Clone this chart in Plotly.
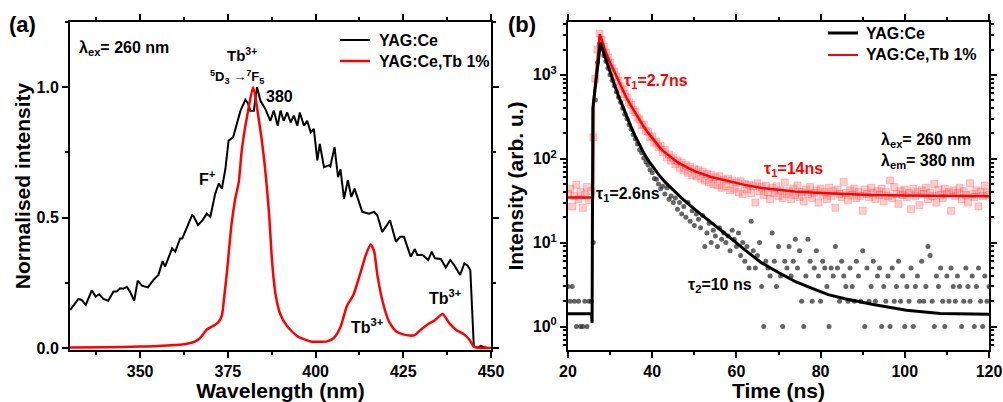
import plotly.graph_objects as go

# ---------------- Panel (a) data ----------------
black_wl = [330.0, 330.5, 332.4, 333.3, 334.5, 336.2, 337.3, 338.3, 339.5, 340.9, 342.4, 343.3, 344.3, 345.2,
            346.2, 347.1, 348.3, 349.3, 350.5, 352.2, 353.8, 355.2, 356.4, 357.1, 358.1, 359.1, 360.0, 361.4,
            362.0, 363.6, 364.8, 365.2, 366.5, 367.8, 369.0, 370.0, 371.4, 372.4, 373.3, 374.3, 375.2, 376.5,
            377.6, 378.6, 380.0, 380.7, 381.4, 382.4, 383.3, 384.3, 385.7, 387.1, 388.1, 389.2, 390.0, 390.9,
            391.9, 392.9, 393.8, 394.8, 395.5, 396.7, 397.6, 398.6, 399.5, 400.5, 401.2, 402.4, 403.8, 404.2,
            405.4, 406.4, 407.1, 408.1, 409.2, 410.2, 411.1, 412.4, 413.3, 415.2, 416.7, 417.6, 419.0, 420.0,
            421.2, 422.9, 424.1, 425.2, 427.1, 428.3, 429.0, 430.5, 432.1, 433.1, 434.0, 435.7, 437.1, 438.4,
            439.5, 441.2, 442.4, 443.3, 444.1, 445.1, 446.2, 447.1, 447.6, 449.0, 450.0]
black_int = [0.145, 0.153, 0.188, 0.184, 0.165, 0.221, 0.197, 0.206, 0.188, 0.181, 0.216, 0.216, 0.229, 0.227,
             0.234, 0.216, 0.181, 0.258, 0.239, 0.232, 0.261, 0.280, 0.333, 0.312, 0.350, 0.382, 0.369, 0.420,
             0.420, 0.471, 0.509, 0.506, 0.471, 0.490, 0.515, 0.503, 0.592, 0.630, 0.611, 0.687, 0.795, 0.808,
             0.865, 0.910, 0.952, 0.939, 0.910, 0.910, 1.000, 0.948, 0.916, 0.871, 0.910, 0.852, 0.910, 0.871,
             0.903, 0.865, 0.891, 0.852, 0.903, 0.852, 0.871, 0.827, 0.840, 0.719, 0.782, 0.693, 0.700, 0.696,
             0.770, 0.655, 0.685, 0.572, 0.643, 0.579, 0.611, 0.560, 0.522, 0.515, 0.522, 0.509, 0.445, 0.464,
             0.490, 0.407, 0.426, 0.426, 0.350, 0.379, 0.356, 0.356, 0.337, 0.369, 0.344, 0.341, 0.308, 0.337,
             0.318, 0.280, 0.324, 0.316, 0.299, 0.006, 0.000, 0.008, 0.005, 0.000, 0.000]

red_wl = [330, 340, 350, 355, 360, 363, 365.7, 367.1, 369.0, 371.4, 372.4, 373.3, 374.0, 374.8, 376.0, 377.1,
          378.1, 379.0, 380.5, 382.2, 383.8, 385.2, 386.7, 387.6, 388.6, 390.0, 391.9, 394.8, 398.6, 403.3,
          405.2, 407.1, 408.9, 410.8, 412.9, 414.3, 415.7, 416.7, 417.6, 419.0, 420.9, 422.9, 425.2, 428.1,
          430.0, 432.1, 433.8, 436.2, 438.1, 440.0, 442.4, 443.8, 445.1, 447.0, 450.0]
red_int = [0.002, 0.003, 0.005, 0.007, 0.011, 0.015, 0.025, 0.038, 0.070, 0.089, 0.100, 0.125, 0.200, 0.300,
           0.470, 0.572, 0.636, 0.763, 0.890, 1.000, 0.878, 0.738, 0.522, 0.331, 0.204, 0.127, 0.083, 0.045,
           0.025, 0.025, 0.038, 0.080, 0.160, 0.204, 0.293, 0.356, 0.397, 0.370, 0.280, 0.184, 0.102, 0.064,
           0.051, 0.048, 0.070, 0.092, 0.104, 0.130, 0.095, 0.070, 0.051, 0.032, 0.005, 0.000, 0.000]

# ---------------- Panel (b) data ----------------
time_ns = [20 + 0.5 * i for i in range(201)]
black_counts = [3, 2, 3, 2, 1, 2, 1, 1, 2, 1, 2, 2,
                10, 500, 1400, 2350, 2150, 1700, 1450, 1200, 1000, 860, 740, 630, 540, 470, 400, 340, 300, 255,
                225, 195, 172, 150, 128, 118, 102, 92, 84, 74, 68, 58, 57, 50, 44, 47, 38, 45, 33, 36,
                30, 34, 25, 30, 22, 27, 20, 30, 18, 24, 16, 22, 19, 15, 21, 9, 13, 17, 10, 14,
                12, 9, 15, 11, 13, 10, 12, 8, 14, 11, 9, 13, 7, 10, 6, 9, 5, 18, 8, 5,
                7, 10, 3, 1, 6, 5, 4, 13, 6, 3, 9, 4, 1, 6, 5, 9, 4, 6, 11, 5,
                8, 2, 1, 4, 11, 6, 2, 5, 8, 4, 2, 6, 5, 3, 1, 5, 4, 9, 5, 2,
                6, 4, 3, 2, 5, 3, 2, 6, 4, 2, 8, 1, 5, 2, 3, 6, 2, 4, 5, 1,
                3, 2, 4, 1, 5, 2, 3, 6, 2, 4, 1, 3, 2, 5, 1, 3, 4, 2, 6, 2,
                3, 9, 7, 2, 1, 4, 3, 5, 2, 1, 4, 2, 5, 3, 2, 4, 3, 1, 2, 5,
                3, 2, 4, 1, 3, 5, 2, 1, 4, 2, 3]
red_counts = [38, 44, 27, 36, 49, 33, 40, 26, 37, 46, 32, 41,
              180, 900, 2000, 3100, 2600, 2150, 1850, 1600, 1400, 1210, 1090, 940, 850, 730, 670, 590, 540, 470,
              440, 380, 360, 310, 295, 250, 255, 215, 210, 180, 185, 155, 160, 138, 142, 120, 128, 104, 112, 95,
              103, 86, 95, 78, 90, 72, 84, 68, 80, 64, 76, 62, 73, 58, 70, 55, 66, 52, 64, 50,
              60, 48, 62, 45, 56, 47, 58, 42, 55, 44, 52, 40, 54, 38, 50, 43, 49, 39, 47, 30,
              51, 41, 46, 37, 48, 40, 33, 45, 39, 47, 36, 42, 34, 52, 38, 41, 33, 44, 37, 48,
              35, 40, 31, 43, 38, 46, 34, 39, 42, 30, 44, 37, 40, 33, 45, 36, 41, 26, 43, 38,
              35, 53, 39, 32, 42, 37, 44, 34, 40, 36, 24, 43, 38, 35, 45, 39, 33, 41, 37, 44,
              31, 40, 36, 55, 34, 46, 38, 29, 41, 37, 43, 35, 39, 25, 44, 36, 40, 28, 42, 38,
              45, 33, 39, 36, 50, 30, 43, 37, 34, 44, 38, 40, 24, 42, 36, 39, 45, 33, 41, 37,
              30, 51, 38, 35, 42, 27, 40, 36, 48, 39, 37]

black_fit_t = [20, 25.6, 25.72, 25.9, 27.7, 28.8, 30, 31.2, 32, 33.1, 34, 35.1, 36, 37, 38, 39.1, 40, 41.5,
               43, 45, 47, 50.2, 54, 58.1, 62, 66, 70, 73.9, 78, 81.8, 85.8, 92.5, 100.4, 108.4, 120]
black_fit_y = [1.42, 1.42, 1.1, 400, 2400, 1620, 1075, 723, 561, 402, 312, 232, 185, 146, 117, 95, 82, 65,
               53, 42, 34, 24.7, 17.5, 11.9, 8.2, 5.73, 4.4, 3.46, 2.85, 2.4, 2.14, 1.83, 1.56, 1.43, 1.40]
red_fit_t = [20, 25.95, 26.05, 27.55, 28.2, 29, 30, 31.2, 32, 33.1, 34, 35.1, 36, 37, 38, 39.1, 40, 41, 42,
             43, 44, 45, 46, 47, 50.2, 54, 58.1, 62, 66, 70, 73.9, 80, 85.8, 92, 100, 110, 120]
red_fit_y = [34.5, 34.5, 460, 3050, 2450, 1850, 1400, 1047, 830, 650, 520, 418, 350, 290, 240, 202, 178, 154,
             132, 119, 108, 99, 91, 85, 70.6, 60.5, 53.8, 48.8, 44.8, 42.5, 40.8, 39, 37.8, 37, 36.5, 36, 35.6]

W, H = 1003, 402
FONT = "Arial, Liberation Sans, sans-serif"


def px(x):
    return x / W


def py(y):
    return 1 - y / H


fig = go.Figure()

# Panel (a)
fig.add_trace(go.Scatter(x=black_wl, y=black_int, mode="lines", line=dict(color="black", width=2),
                         xaxis="x", yaxis="y", showlegend=False))
fig.add_trace(go.Scatter(x=red_wl, y=red_int, mode="lines",
                         line=dict(color="#ff0000", width=2.5, shape="spline", smoothing=0.6),
                         xaxis="x", yaxis="y", showlegend=False))

# Panel (b)
fig.add_trace(go.Scatter(x=time_ns, y=red_counts, mode="markers",
                         marker=dict(symbol="square", size=7, color="rgba(255,90,90,0.30)",
                                     line=dict(color="rgba(255,0,0,0.35)", width=0.6)),
                         xaxis="x2", yaxis="y2", showlegend=False))
fig.add_trace(go.Scatter(x=time_ns, y=black_counts, mode="markers",
                         marker=dict(symbol="circle", size=5, color="rgba(50,50,50,0.75)"),
                         xaxis="x2", yaxis="y2", showlegend=False))
fig.add_trace(go.Scatter(x=red_fit_t, y=red_fit_y, mode="lines",
                         line=dict(color="#ff0000", width=2.5),
                         xaxis="x2", yaxis="y2", showlegend=False))
fig.add_trace(go.Scatter(x=black_fit_t, y=black_fit_y, mode="lines",
                         line=dict(color="black", width=3),
                         xaxis="x2", yaxis="y2", showlegend=False))

axis_common = dict(showline=True, linecolor="black", linewidth=2, mirror="ticks", ticks="outside",
                   ticklen=6, tickwidth=2, tickcolor="black", showgrid=False, zeroline=False,
                   automargin=False,
                   tickfont=dict(family=FONT, size=16, color="black", weight="bold"))

dom_y = [py(350), py(22)]
title_font = dict(family=FONT, size=21, color="black")
fig.update_layout(
    width=W, height=H, margin=dict(l=0, r=0, t=0, b=0, autoexpand=False),
    paper_bgcolor="white", plot_bgcolor="white",
    xaxis=dict(domain=[px(70), px(491)], range=[330, 450], tickvals=[350, 375, 400, 425, 450],
               minor=dict(ticks="outside", ticklen=3, tickwidth=1.5, dtick=12.5, tick0=337.5, tickcolor="black"),
               title=dict(text="<b>Wavelength (nm)</b>", font=title_font, standoff=3),
               anchor="y", **axis_common),
    yaxis=dict(domain=dom_y, range=[-0.008, 1.25], tickvals=[0, 0.5, 1.0], ticktext=["0.0", "0.5", "1.0"],
               minor=dict(ticks="outside", ticklen=3, tickwidth=1.5, tickvals=[0.25, 0.75, 1.25], tickcolor="black"),
               title=dict(text="<b>Normalised intensity</b>", font=title_font, standoff=0),
               anchor="x", **axis_common),
    xaxis2=dict(domain=[px(568), px(989)], range=[20, 120], tickvals=[20, 40, 60, 80, 100, 120],
                minor=dict(ticks="outside", ticklen=3, tickwidth=1.5, dtick=10, tick0=30, tickcolor="black"),
                title=dict(text="<b>Time (ns)</b>", font=title_font, standoff=3),
                anchor="y2", **axis_common),
    yaxis2=dict(domain=dom_y, type="log", range=[-0.28, 3.63], tickvals=[1, 10, 100, 1000],
                ticktext=["10<sup>0</sup>", "10<sup>1</sup>", "10<sup>2</sup>", "10<sup>3</sup>"],
                minor=dict(ticks="outside", ticklen=3, tickwidth=1.5, tickcolor="black",
                           tickvals=[0.6, 0.7, 0.8, 0.9, 2, 3, 4, 5, 6, 7, 8, 9, 20, 30, 40, 50, 60, 70, 80, 90,
                                     200, 300, 400, 500, 600, 700, 800, 900, 2000, 3000, 4000]),
                title=dict(text="<b>Intensity (arb. u.)</b>", font=title_font, standoff=3),
                anchor="x2", **axis_common),
)


def note(x, y, text, size=16, color="black", xanchor="center"):
    fig.add_annotation(x=px(x), y=py(y), xref="paper", yref="paper", text=text, showarrow=False,
                       xanchor=xanchor, yanchor="middle",
                       font=dict(family=FONT, size=size, color=color, weight="bold"))


# Panel (a) annotations
note(22, 25, "(a)", size=22)
note(77, 48, "λ<sub>ex</sub>= 260 nm", size=16, xanchor="left")
note(242, 55, "Tb<sup>3+</sup>", size=15)
note(237, 77, "<sup>5</sup>D<sub>3</sub> →<sup>7</sup>F<sub>5</sub>", size=13)
note(264, 96, "380", size=16, xanchor="left")
note(207, 178, "F<sup>+</sup>", size=16)
note(367, 326, "Tb<sup>3+</sup>", size=16)
note(445, 297, "Tb<sup>3+</sup>", size=16)
# legend (a)
fig.add_shape(type="line", xref="paper", yref="paper", x0=px(340), x1=px(370), y0=py(40), y1=py(40),
              line=dict(color="black", width=2))
fig.add_shape(type="line", xref="paper", yref="paper", x0=px(340), x1=px(370), y0=py(61), y1=py(61),
              line=dict(color="#ff0000", width=2.5))
note(377, 40, "YAG:Ce", size=16, xanchor="left")
note(377, 61, "YAG:Ce,Tb 1%", size=16, xanchor="left")

# Panel (b) annotations
note(522, 25, "(b)", size=22)
fig.add_shape(type="line", xref="paper", yref="paper", x0=px(828), x1=px(858), y0=py(33), y1=py(33),
              line=dict(color="black", width=3))
fig.add_shape(type="line", xref="paper", yref="paper", x0=px(828), x1=px(858), y0=py(55), y1=py(55),
              line=dict(color="#ff0000", width=2))
note(864, 33, "YAG:Ce", size=16, xanchor="left")
note(864, 55, "YAG:Ce,Tb 1%", size=16, xanchor="left")
note(656, 81, "τ<sub>1</sub>=2.7ns", size=16, color="#ff0000")
note(793, 170, "τ<sub>1</sub>=14ns", size=16, color="#ff0000")
note(879, 140, "λ<sub>ex</sub>= 260 nm", size=16, xanchor="left")
note(879, 161, "λ<sub>em</sub>= 380 nm", size=16, xanchor="left")
note(628, 195, "τ<sub>1</sub>=2.6ns", size=16)
note(720, 285, "τ<sub>2</sub>=10 ns", size=16)

fig.write_html("out.html")
